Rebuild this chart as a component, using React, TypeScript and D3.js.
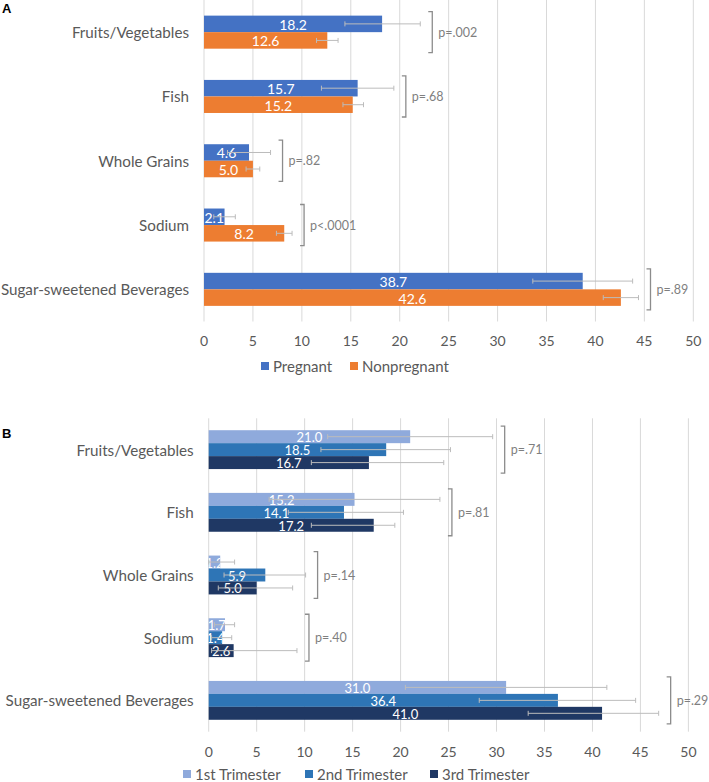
import React from "react";
import * as d3 from "d3";

// shared categories and ticks
const categories = ["Fruits/Vegetables", "Fish", "Whole Grains", "Sodium", "Sugar-sweetened Beverages"];
const xTicks = [0, 5, 10, 15, 20, 25, 30, 35, 40, 45, 50];

// panel A: pregnant vs nonpregnant
const pregnant = [18.2, 15.7, 4.6, 2.1, 38.7];
const pregnantLow = [14.4, 12.0, 2.4, 1.0, 33.6];
const pregnantHigh = [22.1, 19.4, 6.8, 3.2, 43.8];
const nonpregnant = [12.6, 15.2, 5.0, 8.2, 42.6];
const nonpregnantLow = [11.5, 14.2, 4.3, 7.4, 40.8];
const nonpregnantHigh = [13.7, 16.3, 5.7, 9.0, 44.4];
const pValuesA = ["p=.002", "p=.68", "p=.82", "p<.0001", "p=.89"];

// panel B: by trimester
const trimester1 = [21.0, 15.2, 1.2, 1.7, 31.0];
const trimester1Low = [12.4, 6.3, 0.0, 0.6, 20.5];
const trimester1High = [29.6, 24.1, 2.7, 2.7, 41.5];
const trimester2 = [18.5, 14.1, 5.9, 1.4, 36.4];
const trimester2Low = [11.7, 8.3, 1.6, 0.3, 28.2];
const trimester2High = [25.2, 20.3, 10.1, 2.4, 44.5];
const trimester3 = [16.7, 17.2, 5.0, 2.6, 41.0];
const trimester3Low = [10.7, 10.7, 1.0, 0.3, 33.3];
const trimester3High = [24.5, 19.4, 8.75, 9.2, 46.9];
const pValuesB = ["p=.71", "p=.81", "p=.14", "p=.40", "p=.29"];

const FONT = "Lato, 'Open Sans', sans-serif";
const GRID = "#d9d9d9";
const ERR = "#bcbcbc";
const LABEL = "#595959";
const PTEXT = "#7f7f7f";

type Series = { name: string; color: string; values: number[]; low: number[]; high: number[] };

type PanelProps = {
  id: string;
  letter: string;
  letterY: number;
  series: Series[];
  pValues: string[];
  xRange: [number, number];
  yRange: [number, number];
  pad: number;
  tickY: number;
  legendY: number;
  legendX: number[];
  labelSize: number;
};

const Panel = ({ id, letter, letterY, series, pValues, xRange, yRange, pad, tickY, legendY, legendX, labelSize }: PanelProps) => {
  const x = d3.scaleLinear().domain([0, 50]).range(xRange);
  const y = d3
    .scaleBand<string>()
    .domain(categories)
    .range(yRange)
    .paddingInner(pad)
    .paddingOuter(pad / 2);
  const sub = d3
    .scaleBand<string>()
    .domain(series.map((s) => s.name))
    .range([0, y.bandwidth()]);

  return (
    <g>
      <text x={2} y={letterY} fontFamily="Arial, Liberation Sans, sans-serif" fontWeight="bold" fontSize={13} dominantBaseline="central" fill="#000">
        {letter}
      </text>
      {xTicks.map((t) => (
        <g key={t}>
          <line x1={x(t)} x2={x(t)} y1={yRange[0]} y2={yRange[1]} stroke={GRID} strokeWidth={1} />
          <text x={x(t)} y={tickY} textAnchor="middle" dominantBaseline="central" fontFamily={FONT} fontSize={14} fill={LABEL}>
            {t}
          </text>
        </g>
      ))}
      {categories.map((c, i) => {
        const top = y(c)!;
        const maxHigh = d3.max(series, (s) => s.high[i])!;
        const bx = x(maxHigh) + 12;
        const b0 = top - 4;
        const b1 = top + y.bandwidth() + 4;
        return (
          <g key={c}>
            <text x={xRange[0] - 15} y={top + y.bandwidth() / 2} textAnchor="end" dominantBaseline="central" fontFamily={FONT} fontSize={15.2} fill={LABEL}>
              {c}
            </text>
            {series.map((s, k) => {
              const by = top + sub(s.name)!;
              const bh = sub.bandwidth();
              const w = x(s.values[i]) - x(0);
              const cy = by + bh / 2;
              const clipId = `${id}-clip-${i}-${k}`;
              return (
                <g key={s.name}>
                  <rect x={x(0)} y={by} width={w} height={bh} fill={s.color} />
                  <clipPath id={clipId}>
                    <rect x={x(0)} y={by} width={w} height={bh} />
                  </clipPath>
                  <text
                    x={x(0) + w / 2}
                    y={cy + 0.5}
                    textAnchor="middle"
                    dominantBaseline="central"
                    fontFamily={FONT}
                    fontSize={labelSize}
                    fill="#fff"
                    clipPath={`url(#${clipId})`}
                  >
                    {s.values[i].toFixed(1)}
                  </text>
                  <line x1={x(s.low[i])} x2={x(s.high[i])} y1={cy} y2={cy} stroke={ERR} strokeWidth={1} />
                  <line x1={x(s.low[i])} x2={x(s.low[i])} y1={cy - 2.5} y2={cy + 2.5} stroke={ERR} strokeWidth={1} />
                  <line x1={x(s.high[i])} x2={x(s.high[i])} y1={cy - 2.5} y2={cy + 2.5} stroke={ERR} strokeWidth={1} />
                </g>
              );
            })}
            <path d={`M${bx - 4},${b0}H${bx}V${b1}H${bx - 4}`} fill="none" stroke="#8c8c8c" strokeWidth={1.3} />
            <text x={bx + 6} y={top + y.bandwidth() / 2} dominantBaseline="central" fontFamily={FONT} fontSize={12.5} fill={PTEXT}>
              {pValues[i]}
            </text>
          </g>
        );
      })}
      {series.map((s, k) => (
        <g key={s.name}>
          <rect x={legendX[k]} y={legendY - 4} width={8} height={8} fill={s.color} />
          <text x={legendX[k] + 12} y={legendY} dominantBaseline="central" fontFamily={FONT} fontSize={15} fill={LABEL}>
            {s.name}
          </text>
        </g>
      ))}
    </g>
  );
};

const App = () => {
  const seriesA: Series[] = [
    { name: "Pregnant", color: "#4472c4", values: pregnant, low: pregnantLow, high: pregnantHigh },
    { name: "Nonpregnant", color: "#ed7d31", values: nonpregnant, low: nonpregnantLow, high: nonpregnantHigh },
  ];
  const seriesB: Series[] = [
    { name: "1st Trimester", color: "#8faadc", values: trimester1, low: trimester1Low, high: trimester1High },
    { name: "2nd Trimester", color: "#2e75b6", values: trimester2, low: trimester2Low, high: trimester2High },
    { name: "3rd Trimester", color: "#1f3864", values: trimester3, low: trimester3Low, high: trimester3High },
  ];

  return (
    <svg width={709} height={782} style={{ position: "absolute", left: 0, top: 0, background: "#fff" }}>
      <Panel
        id="a"
        letter="A"
        letterY={8}
        series={seriesA}
        pValues={pValuesA}
        xRange={[204, 693.3]}
        yRange={[0, 321.5]}
        pad={0.486}
        tickY={340}
        legendY={366}
        legendX={[261, 350]}
        labelSize={14}
      />
      <Panel
        id="b"
        letter="B"
        letterY={433}
        series={seriesB}
        pValues={pValuesB}
        xRange={[208.7, 688.4]}
        yRange={[418.3, 731.7]}
        pad={0.38}
        tickY={751}
        legendY={774}
        legendX={[183, 305, 430]}
        labelSize={13}
      />
    </svg>
  );
};

export default App;
